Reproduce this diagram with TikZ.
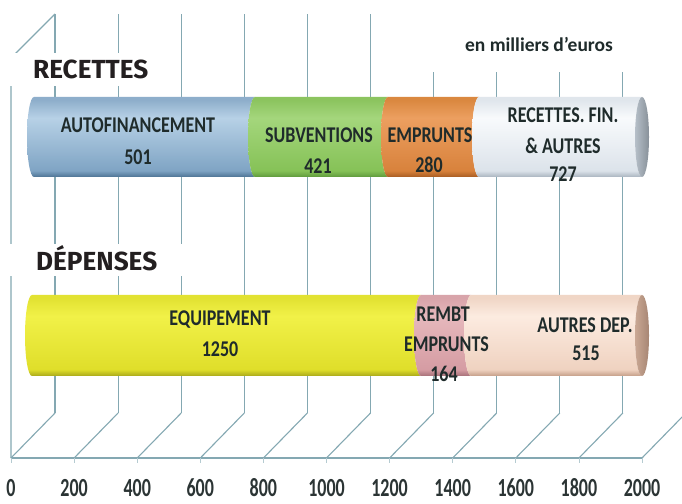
\documentclass[tikz,border=0pt]{standalone}
\usepackage{fontspec}
\setmainfont{Carlito}
\newfontfamily\headfont{Fira Sans}
\usepackage{graphicx}
\definecolor{gridc}{HTML}{84A8B2}
\definecolor{lblc}{HTML}{1F2B2B}
\definecolor{tickc}{HTML}{2B3434}
\definecolor{hdrc}{HTML}{231F20}
% bar colours: D bottom edge, B lower body, H highlight, T top edge
\definecolor{blueD}{HTML}{4D7394}\definecolor{blueB}{HTML}{7FA4C4}\definecolor{blueH}{HTML}{B7D1E6}\definecolor{blueT}{HTML}{8EAECB}
\definecolor{greenD}{HTML}{5E9A3C}\definecolor{greenB}{HTML}{86C257}\definecolor{greenH}{HTML}{A4D67C}\definecolor{greenT}{HTML}{8CC45F}
\definecolor{orangeD}{HTML}{A85C22}\definecolor{orangeB}{HTML}{D8823C}\definecolor{orangeH}{HTML}{EC9F60}\definecolor{orangeT}{HTML}{DA8840}
\definecolor{whiteD}{HTML}{A9B4BF}\definecolor{whiteB}{HTML}{DCE3EA}\definecolor{whiteH}{HTML}{F8FAFC}\definecolor{whiteT}{HTML}{E0E6EC}
\definecolor{yellowD}{HTML}{A9A81A}\definecolor{yellowB}{HTML}{DFDE2A}\definecolor{yellowH}{HTML}{F1F148}\definecolor{yellowT}{HTML}{E2E232}
\definecolor{pinkD}{HTML}{A77078}\definecolor{pinkB}{HTML}{D59CA3}\definecolor{pinkH}{HTML}{E6B8BC}\definecolor{pinkT}{HTML}{D8A4AA}
\definecolor{peachD}{HTML}{C49E88}\definecolor{peachB}{HTML}{EFD2C0}\definecolor{peachH}{HTML}{FCEBE0}\definecolor{peachT}{HTML}{F0D6C6}
\newcommand\cylshade[5]{\pgfdeclareverticalshading{#1}{100bp}{color(0bp)=(#2); color(25bp)=(#2); color(29bp)=(#3); color(62bp)=(#4); color(73bp)=(#5); color(100bp)=(#5)}}
\cylshade{shblue}{blueD}{blueB}{blueH}{blueT}
\cylshade{shgreen}{greenD}{greenB}{greenH}{greenT}
\cylshade{shorange}{orangeD}{orangeB}{orangeH}{orangeT}
\cylshade{shwhite}{whiteD}{whiteB}{whiteH}{whiteT}
\cylshade{shyellow}{yellowD}{yellowB}{yellowH}{yellowT}
\cylshade{shpink}{pinkD}{pinkB}{pinkH}{pinkT}
\cylshade{shpeach}{peachD}{peachB}{peachH}{peachT}
% segment: from a to b, top Y, bottom Y, shading
\newcommand\cylseg[5]{%
  \pgfmathsetmacro\cylry{(#3-#4)/2}%
  \path[shading=#5] (#1,#3) arc[start angle=90, end angle=270, x radius=7, y radius=\cylry]
     -- (#2,#4) arc[start angle=270, end angle=90, x radius=7, y radius=\cylry] -- cycle;}
\begin{document}
\begin{tikzpicture}[x=1pt,y=1pt,
  grid/.style={draw=gridc, line width=1.1pt},
  barlbl/.style={inner sep=0pt, text=lblc, font=\fontsize{18}{18}\selectfont\bfseries},
  ticklbl/.style={inner sep=0pt, text=tickc, font=\fontsize{18}{18}\selectfont\bfseries},
  hdr/.style={inner sep=0pt, text=hdrc, font=\headfont\bfseries\fontsize{22}{22}\selectfont},
  whitebox/.style={fill=white, draw=none}]
\fill[white] (0,0) rectangle (682,503);
\useasboundingbox (0,0) rectangle (682,503);
% grid / 3D floor and walls
\begin{scope}
\clip (0,0) rectangle (682,503);
\draw[grid] (11,45) -- (642,45);
\foreach \k in {0,...,10} {
  \pgfmathsetmacro\xf{11+63.1*\k}
  \draw[grid] (\xf,45) -- (\xf+44,90);
  \draw[gridc!60, line width=0.8pt] (\xf,45) -- (\xf,40);
}
\foreach \k in {0,...,9} {
  \pgfmathsetmacro\xf{11+63.1*\k}
  \draw[grid] (\xf+44,90) -- (\xf+44,489);
}
\draw[grid] (11,45) -- (11,445) -- (55,489);
\end{scope}
% tick labels
\foreach \k/\v in {0/0,1/200,2/400,3/600,4/800,5/1000,6/1200,7/1400,8/1600,9/1800,10/2000}
  \node[ticklbl] (tick\k) at (11+63.1*\k,15) {\scalebox{1}[1.45]{\v}};
% white label boxes
\path[whitebox] (0,417) rectangle (181,450);
\path[whitebox] (6,227) rectangle (186,259);
\path[whitebox] (395,431) rectangle (682,503);
\node[hdr, anchor=base west] (hrec) at (33,424) {\resizebox{115pt}{!}{RECETTES}};
\node[hdr, anchor=base west] (hdep) at (36,232) {\resizebox{121pt}{!}{DÉPENSES}};
\node[anchor=base, inner sep=0pt, text=lblc, font=\fontsize{19.5}{20}\selectfont\bfseries] (unit) at (539,451) {en milliers d'euros};
% RECETTES cylinder
\cylseg{34}{255}{406}{326}{shblue}
\cylseg{255}{388}{406}{326}{shgreen}
\cylseg{388}{479}{406}{326}{shorange}
\cylseg{479}{642}{406}{326}{shwhite}
\path[left color=whiteD!85!white, right color=whiteD!80!black] (642,366) ellipse[x radius=7, y radius=40];
% DEPENSES cylinder
\cylseg{32}{421}{208}{127}{shyellow}
\cylseg{421}{471}{208}{127}{shpink}
\cylseg{471}{642}{208}{127}{shpeach}
\path[left color=peachD!90!white, right color=peachD!85!black] (642,167.5) ellipse[x radius=7, y radius=40.5];
% bar labels
\node[barlbl] (autof) at (138,377.5) {\scalebox{1}[1.25]{AUTOFINANCEMENT}};
\node[barlbl] (autofv) at (138,346) {\scalebox{1}[1.25]{501}};
\node[barlbl] (subv) at (319,367.5) {\scalebox{1}[1.25]{SUBVENTIONS}};
\node[barlbl] (subvv) at (318,337) {\scalebox{1}[1.25]{421}};
\node[barlbl] (empr) at (430,368) {\scalebox{1}[1.25]{EMPRUNTS}};
\node[barlbl] (emprv) at (429,338) {\scalebox{1}[1.25]{280}};
\node[barlbl] (recf) at (563,387.5) {\scalebox{1}[1.25]{RECETTES. FIN.}};
\node[barlbl] (recf2) at (563,357.5) {\scalebox{1}[1.25]{\& AUTRES}};
\node[barlbl] (recfv) at (563,328.5) {\scalebox{1}[1.25]{727}};
\node[barlbl] (equip) at (220,183.5) {\scalebox{1}[1.25]{EQUIPEMENT}};
\node[barlbl] (equipv) at (220,153.5) {\scalebox{1}[1.25]{1250}};
\node[barlbl] (remb) at (443,188.5) {\scalebox{1}[1.25]{REMBT}};
\node[barlbl] (remb2) at (446.5,158.5) {\scalebox{1}[1.25]{EMPRUNTS}};
\node[barlbl] (rembv) at (444,129.5) {\scalebox{1}[1.25]{164}};
\node[barlbl] (autdep) at (585,177.5) {\scalebox{1}[1.25]{AUTRES DEP.}};
\node[barlbl] (autdepv) at (586,149.5) {\scalebox{1}[1.25]{515}};
\end{tikzpicture}
\end{document}
